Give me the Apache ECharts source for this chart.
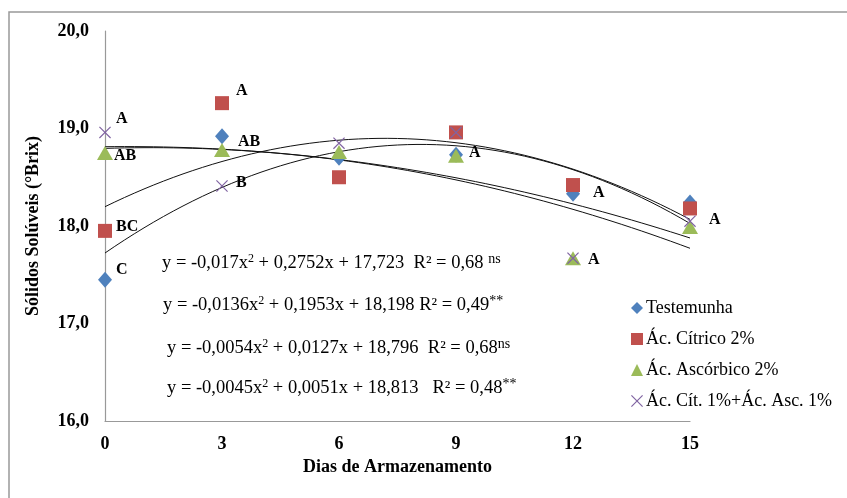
<!DOCTYPE html>
<html>
<head>
<meta charset="utf-8">
<script src="https://cdn.jsdelivr.net/npm/echarts@6/dist/echarts.min.js"></script>
<style>html,body{margin:0;padding:0;background:#fff}#c{width:847px;height:498px}</style>
</head>
<body>
<div id="c"></div>
<script>
const days = [0, 3, 6, 9, 12, 15];
const seriesNames = ['Testemunha', 'Ác. Cítrico 2%', 'Ác. Ascórbico 2%', 'Ác. Cít. 1%+Ác. Asc. 1%'];
const testemunha = [17.45, 18.92, 18.70, 18.73, 18.33, 18.24];
const citrico = [17.95, 19.26, 18.50, 18.96, 18.42, 18.18];
const ascorbico = [18.75, 18.78, 18.76, 18.72, 17.67, 17.99];
const mistura = [18.96, 18.41, 18.85, 18.96, 17.67, 18.05];
const yTicks = [16, 17, 18, 19, 20];
// regression coefficients [a, b, c] of y = a x^2 + b x + c as printed on the chart
const trend1 = [-0.017, 0.2752, 17.723];
const trend2 = [-0.0136, 0.1953, 18.198];
const trend3 = [-0.0054, 0.0127, 18.796];
const trend4 = [-0.0045, 0.0051, 18.813];
const equations = [
  'y = -0,017x{e|2} + 0,2752x + 17,723  R² = 0,68 {s|ns}',
  'y = -0,0136x{e|2} + 0,1953x + 18,198 R² = 0,49{s|**}',
  'y = -0,0054x{e|2} + 0,0127x + 18,796  R² = 0,68{s|ns}',
  'y = -0,0045x{e|2} + 0,0051x + 18,813   R² = 0,48{s|**}'
];
// significance letters: [day, value, letter]
const letterDays = [0, 0, 0, 0, 3, 3, 3, 9, 12, 12, 15];
const letterValues = [18.96, 18.75, 17.95, 17.45, 19.26, 18.84, 18.41, 18.72, 18.42, 17.67, 18.05];
const letterTexts = ['A', 'AB', 'BC', 'C', 'A', 'AB', 'B', 'A', 'A', 'A', 'A'];
const letterOffsets = [[11,-14],[9,3],[11,-4],[11,-10],[14,-12],[16,-2],[14,-3],[13,-3],[20,8],[15,2],[19,-1]];

const FONT = '"Liberation Serif", "Times New Roman", serif';
const colors = ['#4F81BD', '#C0504D', '#9BBB59', '#8064A2'];
const symbols = ['diamond', 'rect', 'triangle', 'path://M0,0.7L0.7,0L10,9.3L9.3,10ZM9.3,0L10,0.7L0.7,10L0,9.3Z'];
const sizes = [[14,16], 14, [16,14], 12];

function curve(coef) {
  const pts = [];
  for (let i = 0; i <= 60; i++) {
    const x = i * 0.25;
    pts.push([x, coef[0] * x * x + coef[1] * x + coef[2]]);
  }
  return pts;
}

const pointSeries = [testemunha, citrico, ascorbico, mistura].map((vals, i) => ({
  name: seriesNames[i],
  type: 'scatter',
  symbol: symbols[i],
  symbolSize: sizes[i],
  itemStyle: { color: colors[i], opacity: 1 },
  data: days.map((d, j) => [d, vals[j]]),
  z: 3 + i
}));
const trendSeries = [trend1, trend2, trend3, trend4].map(c => ({
  type: 'line',
  data: curve(c),
  showSymbol: false,
  silent: true,
  lineStyle: { color: '#111', width: 1 },
  z: 2
}));

const chart = echarts.init(document.getElementById('c'));
const option = {
  animation: false,
  backgroundColor: '#fff',
  grid: { left: 105, right: 157, top: 31, bottom: 77, containLabel: false },
  legend: {
    data: seriesNames,
    orient: 'vertical',
    left: 626, top: 294,
    itemWidth: 12, itemHeight: 12, itemGap: 13,
    textStyle: { fontFamily: FONT, fontSize: 18, color: '#000', lineHeight: 18, padding: [0,0,0,-2] },
    selectedMode: false
  },
  xAxis: {
    type: 'value', min: 0, max: 15, interval: 3,
    name: 'Dias de Armazenamento', nameLocation: 'middle', nameGap: 37,
    nameTextStyle: { fontFamily: FONT, fontSize: 18, fontWeight: 'bold', color: '#000' },
    axisLine: { show: true, lineStyle: { color: '#999', width: 1.2 } },
    axisTick: { show: false }, splitLine: { show: false },
    axisLabel: { fontFamily: FONT, fontSize: 18, fontWeight: 'bold', color: '#000', margin: 14 }
  },
  yAxis: {
    type: 'value', min: yTicks[0], max: yTicks[yTicks.length - 1], interval: 1,
    name: 'Sólidos Solúveis (°Brix)', nameLocation: 'middle', nameGap: 63,
    nameTextStyle: { fontFamily: FONT, fontSize: 18, fontWeight: 'bold', color: '#000' },
    axisLine: { show: true, lineStyle: { color: '#999', width: 1.2 } },
    axisTick: { show: false }, splitLine: { show: false },
    axisLabel: { fontFamily: FONT, fontSize: 18, fontWeight: 'bold', color: '#000', margin: 16,
      formatter: v => v.toFixed(1).replace('.', ',') }
  },
  series: trendSeries.concat(pointSeries)
};
chart.setOption(option);

const eqPos = [[162, 263], [163, 305], [167, 348], [167, 388]];
const graphics = [{
  type: 'rect', silent: true,
  shape: { x: 9, y: 12, width: 860, height: 520 },
  style: { fill: 'none', stroke: '#999', lineWidth: 1.5 }, z: 0
}];
equations.forEach((t, i) => {
  graphics.push({
    type: 'text', x: eqPos[i][0], y: eqPos[i][1], z: 10,
    style: {
      text: t, fontFamily: FONT, fontSize: 18.5, fill: '#000',
      verticalAlign: 'middle', align: 'left', lineHeight: 21,
      rich: {
        e: { fontSize: 12, fontFamily: FONT, fill: '#000', verticalAlign: 'top', lineHeight: 21 },
        s: { fontSize: 14, fontFamily: FONT, fill: '#000', verticalAlign: 'top', lineHeight: 19 }
      }
    }
  });
});
letterTexts.forEach((t, i) => {
  const p = chart.convertToPixel({ gridIndex: 0 }, [letterDays[i], letterValues[i]]);
  graphics.push({
    type: 'text', x: p[0] + letterOffsets[i][0], y: p[1] + letterOffsets[i][1], z: 10,
    style: { text: t, fontFamily: FONT, fontSize: 16, fontWeight: 'bold', fill: '#000',
      verticalAlign: 'middle', align: 'left' }
  });
});
chart.setOption({ graphic: graphics });
</script>
</body>
</html>
